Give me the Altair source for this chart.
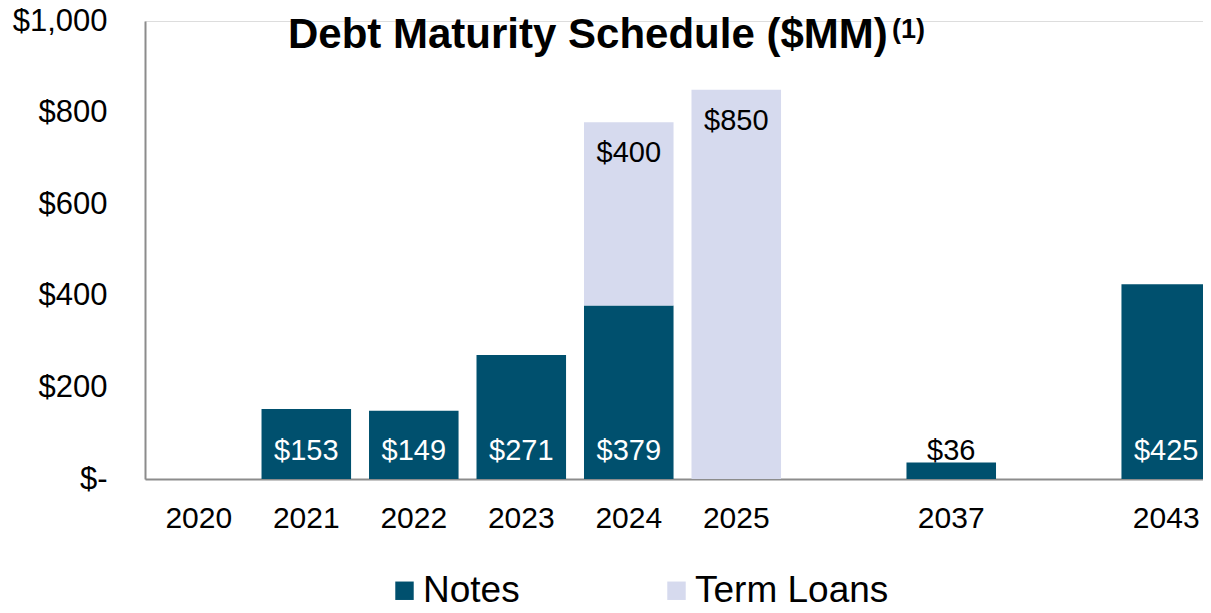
import altair as alt
import pandas as pd

years = ["2020", "2021", "2022", "2023", "2024", "2025", "gap1", "2037", "gap2", "2043"]
note_years = ["2021", "2022", "2023", "2024", "2037", "2043"]
note_values = [153, 149, 271, 379, 36, 425]
term_years = ["2024", "2025"]
term_values = [400, 850]
series = ["Notes", "Term Loans"]
colors = ["#00506E", "#D6DAEE"]
y_ticks = [0, 200, 400, 600, 800, 1000]

FONT = "Liberation Sans"

notes_df = pd.DataFrame({"year": note_years, "value": note_values, "series": "Notes"})
notes_df["base"] = 0
notes_df["top"] = notes_df["value"]
notes_df["label"] = ["$" + str(v) for v in note_values]
notes_df["lblcolor"] = ["white" if v > 100 else "black" for v in note_values]

base_map = dict(zip(note_years, note_values))
term_df = pd.DataFrame({"year": term_years, "value": term_values, "series": "Term Loans"})
term_df["base"] = [base_map.get(y, 0) for y in term_years]
term_df["top"] = term_df["base"] + term_df["value"]
term_df["label"] = ["$" + str(v) for v in term_values]

df = pd.concat([notes_df, term_df], ignore_index=True)

x_scale = alt.Scale(domain=years, paddingInner=0.167, paddingOuter=0.042, align=1)

x_enc = alt.X(
    "year:N",
    sort=years,
    scale=x_scale,
    axis=alt.Axis(
        title=None,
        labelExpr="indexof(datum.value, 'gap') >= 0 ? '' : datum.value",
        labelAngle=0,
        labelFont=FONT,
        labelFontSize=30,
        labelColor="black",
        labelPadding=24,
        ticks=False,
        domainColor="#8c8c8c",
        domainWidth=2,
        grid=False,
    ),
)

y_scale = alt.Scale(domain=[0, 1000], nice=False)

bars = alt.Chart(df).mark_bar().encode(
    x=x_enc,
    y=alt.Y(
        "base:Q",
        scale=y_scale,
        axis=alt.Axis(
            title=None,
            values=y_ticks,
            labelExpr="datum.value == 0 ? '$-' : '$' + format(datum.value, ',')",
            labelFont=FONT,
            labelFontSize=31,
            labelColor="black",
            labelPadding=38,
            ticks=False,
            grid=False,
            domainColor="#8c8c8c",
            domainWidth=2,
        ),
    ),
    y2="top:Q",
    color=alt.Color(
        "series:N",
        scale=alt.Scale(domain=series, range=colors),
        legend=alt.Legend(
            title=None,
            orient="none",
            direction="horizontal",
            legendX=241,
            legendY=551,
            symbolType="square",
            symbolSize=340,
            symbolStrokeWidth=0,
            symbolOpacity=1,
            labelFont=FONT,
            labelFontSize=37,
            labelColor="black",
            labelOffset=0,
            columnPadding=138,
            labelLimit=400,
        ),
    ),
)

note_labels = alt.Chart(notes_df).mark_text(
    font=FONT, fontSize=29, baseline="alphabetic", align="center", dy=-19
).encode(
    x=alt.X("year:N", sort=years, scale=x_scale),
    y=alt.Y("base:Q", scale=y_scale),
    text="label:N",
    color=alt.Color("lblcolor:N", scale=None),
)

term_labels = alt.Chart(term_df).mark_text(
    font=FONT, fontSize=29, baseline="alphabetic", align="center", dy=40, color="black"
).encode(
    x=alt.X("year:N", sort=years, scale=x_scale),
    y=alt.Y("top:Q", scale=y_scale),
    text="label:N",
)

title_df = pd.DataFrame({"t": ["Debt Maturity Schedule ($MM)"], "s": ["(1)"]})
title_main = alt.Chart(title_df).mark_text(
    font=FONT, fontSize=42, fontWeight="bold", align="left", baseline="alphabetic", color="black"
).encode(x=alt.value(143), y=alt.value(27), text="t:N")
title_sup = alt.Chart(title_df).mark_text(
    font=FONT, fontSize=27, fontWeight="bold", align="left", baseline="alphabetic", color="black"
).encode(x=alt.value(747), y=alt.value(17), text="s:N")

chart = alt.layer(bars, note_labels, term_labels, title_main, title_sup).properties(
    width=1066,
    height=458,
    autosize=alt.AutoSizeParams(type="none"),
    padding={"left": 137, "top": 13, "right": -8, "bottom": 126},
).configure_view(stroke=None).configure(background="white")

chart.save("out.html", embed_options={"renderer": "svg", "actions": False})
